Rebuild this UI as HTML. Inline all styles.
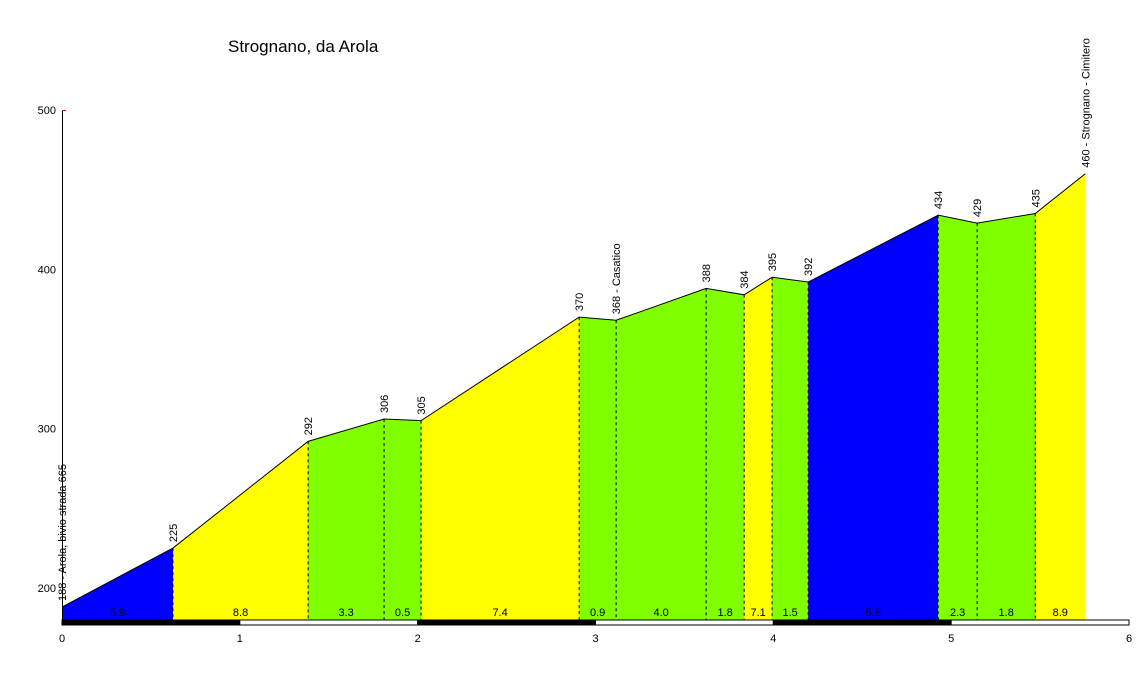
<!DOCTYPE html>
<html><head><meta charset="utf-8"><style>
html,body{margin:0;padding:0;background:#fff;}
svg{display:block;font-family:"Liberation Sans",sans-serif;}
</style></head><body>
<svg id="c" width="1136" height="673">
<text x="228" y="52" font-size="17">Strognano, da Arola</text>
</svg>
<script>
const distances=[0,0.624,1.384,1.811,2.019,2.908,3.116,3.622,3.836,3.993,4.196,4.927,5.146,5.473,5.754];
const elevations=[188,225,292,306,305,370,368,388,384,395,392,434,429,435,460];
const pointLabels=["188 - Arola, bivio strada 665","225","292","306","305","370","368 - Casatico","388","384","395","392","434","429","435","460 - Strognano - Cimitero"];
const gradients=["5.9","8.8","3.3","0.5","7.4","0.9","4.0","1.8","7.1","1.5","5.8","2.3","1.8","8.9"];
const segColors=["#0000ff","#ffff00","#80ff00","#80ff00","#ffff00","#80ff00","#80ff00","#80ff00","#ffff00","#80ff00","#0000ff","#80ff00","#80ff00","#ffff00"];
const yTicks=[200,300,400,500];
const xTicks=[0,1,2,3,4,5,6];
const NS="http://www.w3.org/2000/svg";
const svg=document.getElementById('c');
const X=d=>62+d*(1067/6);
const Y=e=>110+(500-e)*1.593;
const base=620;
function mk(t,a,p){const e=document.createElementNS(NS,t);for(const k in a)e.setAttribute(k,a[k]);(p||svg).appendChild(e);return e;}
for(let i=0;i<distances.length-1;i++){
  const x0=X(distances[i]),x1=X(distances[i+1]);
  const s=mk('polygon',{points:`${x0},${base} ${x0},${Y(elevations[i])} ${x1},${Y(elevations[i+1])} ${x1},${base}`,fill:segColors[i]});
  
  
  const g=mk('text',{x:(x0+x1)/2,y:616,'font-size':11,'text-anchor':'middle'});
  g.textContent=gradients[i];
  
  
}
for(let i=1;i<distances.length-1;i++){
  const l=mk('line',{x1:X(distances[i]),x2:X(distances[i]),y1:Y(elevations[i]),y2:base,stroke:'#000','stroke-dasharray':'3,3','stroke-width':1});
  
  
}
const pl=mk('polyline',{points:distances.map((d,i)=>X(d)+','+Y(elevations[i])).join(' '),fill:'none',stroke:'#000','stroke-width':1});


for(let i=0;i<distances.length;i++){
  const x=X(distances[i])+4,y=Y(elevations[i])-6;
  const t=mk('text',{x:x,y:y,'font-size':11,transform:`rotate(-90 ${x} ${y})`});
  t.textContent=pointLabels[i];
  
  
}
for(let k=0;k<6;k++){
  const r=mk('rect',{x:X(k),y:620,width:X(k+1)-X(k),height:5,fill:k%2==0?'#000':'#fff',stroke:'#000','stroke-width':1});
  
  
}
const ax=mk('line',{x1:62.5,x2:62.5,y1:110,y2:620,stroke:'#000'});


mk('line',{x1:62,x2:66,y1:110.5,y2:110.5,stroke:'#f00'});
yTicks.forEach(v=>{
  const t=mk('text',{x:56,y:Y(v)+4,'font-size':11,'text-anchor':'end'});
  t.textContent=v;
  
  
});
xTicks.forEach(v=>{
  const t=mk('text',{x:X(v),y:642,'font-size':11,'text-anchor':'middle'});
  t.textContent=v;
  
  
});
</script>
</body></html>
